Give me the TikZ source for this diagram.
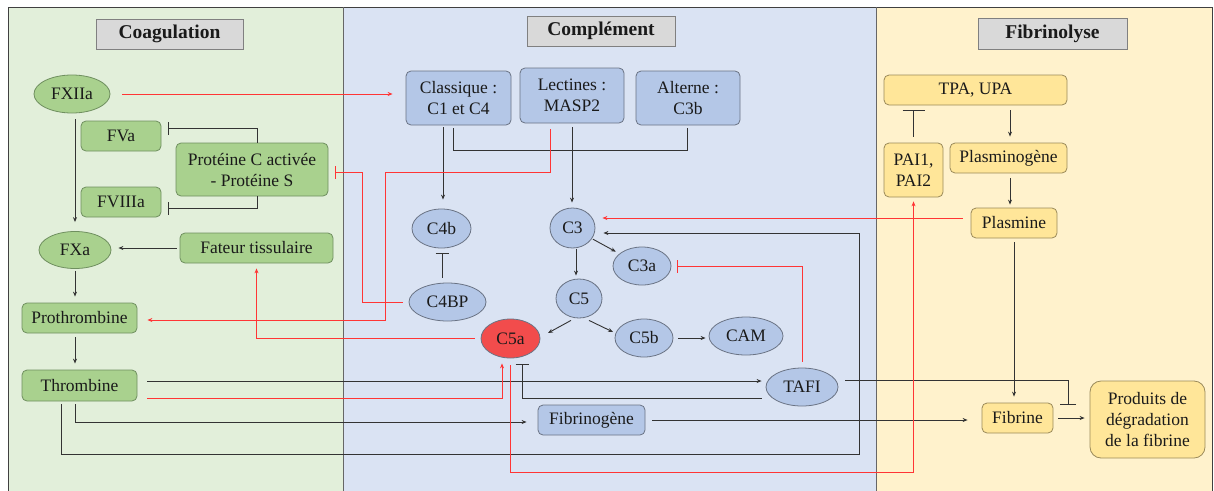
\documentclass[tikz,border=0pt]{standalone}
\usepackage{fontspec}
\setmainfont{Liberation Serif}
\usetikzlibrary{arrows.meta,shapes.geometric,calc}
\definecolor{gbg}{HTML}{E2EFDA}
\definecolor{bbg}{HTML}{DAE3F3}
\definecolor{ybg}{HTML}{FFF2CC}
\definecolor{gfill}{HTML}{A9D18E}
\definecolor{gdraw}{HTML}{6F8F5F}
\definecolor{bfill}{HTML}{B4C7E7}
\definecolor{bdraw}{HTML}{6A7384}
\definecolor{yfill}{HTML}{FFE699}
\definecolor{ydraw}{HTML}{9A8A5A}
\definecolor{hfill}{HTML}{D9D9D9}
\definecolor{hdraw}{HTML}{808080}
\definecolor{c5afill}{HTML}{F24C4C}
\definecolor{lblack}{HTML}{333333}
\definecolor{lred}{HTML}{FF3535}
\definecolor{txt}{HTML}{1A1A1A}
\definecolor{framec}{HTML}{404040}
\begin{document}
\begin{tikzpicture}[x=1pt,y=-1pt,
  every node/.style={font=\fontsize{17.5}{21}\selectfont, text=txt},
  box/.style={rectangle, rounded corners=5pt, line width=0.8pt, inner sep=0pt, align=center},
  gbox/.style={box, fill=gfill, draw=gdraw},
  bbox/.style={box, fill=bfill, draw=bdraw},
  ybox/.style={box, fill=yfill, draw=ydraw},
  ell/.style={ellipse, line width=0.8pt, inner sep=0pt},
  gell/.style={ell, fill=gfill, draw=gdraw},
  bell/.style={ell, fill=bfill, draw=bdraw},
  head/.style={rectangle, fill=hfill, draw=hdraw, line width=1pt, inner sep=0pt, font=\fontsize{19.5}{22}\selectfont\bfseries},
  sz/.style 2 args={minimum width=#1pt, minimum height=#2pt},
  conn/.style={draw=lblack, line width=0.9pt},
  arr/.style={conn, -{Stealth[length=5pt,width=4pt]}},
  inh/.style={conn, -{Bar[width=#1]}}, inh/.default=13pt,
  rconn/.style={draw=lred, line width=0.9pt},
  rarr/.style={rconn, -{Stealth[length=5pt,width=4pt]}},
  rinh/.style={rconn, -{Bar[width=#1]}}, rinh/.default=13pt
]
\useasboundingbox (0,0) rectangle (1214,490);
\clip (0,0) rectangle (1214,490);
% panels
\fill[gbg] (8,7) rectangle (343,495);
\fill[bbg] (343,7) rectangle (876,495);
\fill[ybg] (876,7) rectangle (1212,495);
\draw[framec, line width=1pt] (8,7) rectangle (1212,495);
\draw[framec!80, line width=1pt] (343,7) -- (343,495);
\draw[framec!80, line width=1pt] (876,7) -- (876,495);

% headers
\node[head, sz={147}{30}] (hcoag) at (169.5,34) {Coagulation};
\node[head, sz={148}{30}] (hcomp) at (601,31) {Complément};
\node[head, sz={149}{31}] (hfib) at (1052.5,33.5) {Fibrinolyse};

% coagulation
\node[gell, sz={76}{38}] (fxiia) at (72,94) {FXIIa};
\node[gbox, sz={80}{30}] (fva) at (121,136) {FVa};
\node[gbox, sz={152}{53}] (pca) at (252,169.5) {Protéine C activée\\- Protéine S};
\node[gbox, sz={80}{30}] (fviiia) at (121,202) {FVIIIa};
\node[gell, sz={72}{37}] (fxa) at (75,250) {FXa};
\node[gbox, sz={153}{30}] (ft) at (256.5,248) {Fateur tissulaire};
\node[gbox, sz={115}{30}] (proth) at (79.5,318) {Prothrombine};
\node[gbox, sz={115}{31}] (thromb) at (79.5,385.5) {Thrombine};

% complement
\node[bbox, sz={105}{54}] (classique) at (458.5,98) {Classique :\\C1 et C4};
\node[bbox, sz={104}{55}] (lectines) at (572,95.5) {Lectines :\\MASP2};
\node[bbox, sz={104}{54}] (alterne) at (688,98) {Alterne :\\C3b};
\node[bell, sz={59}{39}] (c4b) at (441.5,228.5) {C4b};
\node[bell, sz={45}{40}] (c3) at (572.5,228) {C3};
\node[bell, sz={58}{38}] (c3a) at (642,266) {C3a};
\node[bell, sz={77}{38}] (c4bp) at (447.5,302) {C4BP};
\node[bell, sz={46}{39}] (c5) at (579,298.5) {C5};
\node[ell, fill=c5afill, draw=bdraw, sz={59}{39}] (c5a) at (510.5,338.5) {C5a};
\node[bell, sz={58}{38}] (c5b) at (644,338) {C5b};
\node[bell, sz={74}{38}] (cam) at (746,336) {CAM};
\node[bell, sz={72}{38}] (tafi) at (802,387) {TAFI};
\node[bbox, sz={107}{30}] (fibrinogene) at (591.5,420) {Fibrinogène};

% fibrinolyse
\node[ybox, sz={183}{30}] (tpa) at (975.5,90) {TPA, UPA};
\node[ybox, sz={59}{54}] (pai) at (913.5,170) {PAI1,\\PAI2};
\node[ybox, sz={117}{30}] (plasminogene) at (1008.5,158) {Plasminogène};
\node[ybox, sz={86}{30}] (plasmine) at (1014,223) {Plasmine};
\node[ybox, sz={71}{30}] (fibrine) at (1017.5,418) {Fibrine};
\node[ybox, rounded corners=11pt, sz={115}{77}] (produits) at (1147.5,419.5) {Produits de\\dégradation\\de la fibrine};

\coordinate (ybot) at (0,472);
\coordinate (yloop) at (0,454);
\coordinate (xloop) at (859,0);
\coordinate (tfbar) at (1068,405);

% black connectors
\draw[arr, shorten <=6pt, shorten >=9pt] (fxa.north |- fxiia.south) -- (fxa.north);
\draw[inh, shorten >=0pt] ($(pca.north)+(5,0)$) |- ($(fva.east)+(7,-8)$);
\draw[inh, shorten >=0pt] ($(pca.south)+(5,0)$) |- ($(fviiia.east)+(7,6)$);
\draw[arr, shorten <=3pt, shorten >=7pt] (ft.west) -- (ft.west -| fxa.east);
\draw[arr, shorten <=2pt, shorten >=6pt] (fxa.south) -- (proth.north -| fxa.south);
\draw[arr, shorten <=4pt, shorten >=6pt] (proth.south -| fxa.south) -- (thromb.north -| fxa.south);
\draw[arr, shorten <=10pt, shorten >=4pt] ($(thromb.east)+(0,-4.5)$) -- ($(tafi.west)+(0,-6)$);
\draw[inh, shorten <=4pt, shorten >=6pt] ($(tafi.west)+(0,11)$) -| ($(c5a.south)+(11.5,0)$);
\draw[arr, shorten <=3pt, shorten >=11pt] ($(thromb.south)+(-4.5,0)$) |- ($(fibrinogene.west)+(0,2)$);
\draw[arr, shorten <=3pt, shorten >=8pt] ($(thromb.south)+(-18.5,0)$) |- (xloop |- yloop) |- ($(c3.east)+(0,5)$);
\draw[arr, shorten <=7pt, shorten >=14pt] (fibrinogene.east) -- (fibrinogene.east -| fibrine.west);
\draw[inh=16pt, shorten <=7pt] ($(tafi.east)+(0,-7)$) -| (tfbar);
\draw[arr, shorten <=5pt, shorten >=5pt] (fibrine.east) -- (fibrine.east -| produits.west);
\draw[arr, shorten <=4pt, shorten >=6pt] (plasmine.south) -- (plasmine.south |- fibrine.north);
\draw[arr, shorten <=5pt, shorten >=6pt] ($(plasminogene.north |- tpa.south)+(1.5,0)$) -- ($(plasminogene.north)+(1.5,0)$);
\draw[arr, shorten <=5pt, shorten >=3pt] ($(plasminogene.south)+(1.5,0)$) -- ($(plasminogene.south |- plasmine.north)+(1.5,0)$);
\draw[inh=22pt, shorten <=6pt, shorten >=5pt] (pai.north) -- (pai.north |- tpa.south);
\draw[arr, shorten <=2pt, shorten >=9pt] ($(classique.south)+(-15.5,0)$) -- ($(c4b.north)+(1.5,0)$);
\draw[conn, shorten <=3pt, shorten >=3pt] ($(classique.south)+(-5.5,0)$) |- ($(alterne.south)+(-1,25)$) -- ($(alterne.south)+(-1,0)$);
\draw[arr, shorten <=4pt, shorten >=5pt] (lectines.south) -- (lectines.south |- c3.north);
\draw[arr, shorten <=1pt, shorten >=4pt] (c3) -- (c3a);
\draw[arr, shorten <=1pt, shorten >=3pt] ($(c3.south)+(3.5,0)$) -- ($(c5.north)+(-3,0)$);
\draw[arr] ($(c5.south)+(-8,2)$) -- ($(c5a.center)+(37.5,-5.5)$);
\draw[arr] ($(c5.south)+(10,2)$) -- ($(c5b.center)+(-31,-6)$);
\draw[arr, shorten <=5pt, shorten >=3pt] (c5b.east) -- (c5b.east -| cam.west);
\draw[inh, shorten <=5pt, shorten >=5pt] ($(c4bp.north)+(-5.5,0)$) -- ($(c4b.south)+(0.5,0)$);

% red connectors
\draw[rarr, shorten <=12pt, shorten >=13pt] (fxiia.east) -- (fxiia.east -| classique.west);
\draw[rarr, shorten <=10pt, shorten >=5pt] ($(thromb.east)+(0,12.5)$) -| ($(c5a.south)+(-8.5,0)$);
\draw[rarr, shorten <=7pt, shorten >=4pt] (c5a.south) -- (c5a.south |- ybot) -| (pai.south);
\draw[rarr, shorten <=6pt, shorten >=5pt] (c5a.west) -| (ft.south);
\draw[rinh, shorten <=6pt, shorten >=7pt] (c4bp.west) -| ($(pca.east)+(34,2.5)$) -- ($(pca.east)+(0,2.5)$);
\draw[rarr, shorten <=6pt, shorten >=10pt] ($(lectines.south)+(-22,0)$) |- (385,172) |- ($(proth.east)+(0,2)$);
\draw[rinh, shorten <=6pt, shorten >=6pt] (tafi.north) |- (c3a.east);
\draw[rarr, shorten <=8pt, shorten >=7pt] ($(plasmine.west)+(0,-5)$) -- ($(plasmine.west -| c3.east)+(0,-5)$);
\end{tikzpicture}
\end{document}
